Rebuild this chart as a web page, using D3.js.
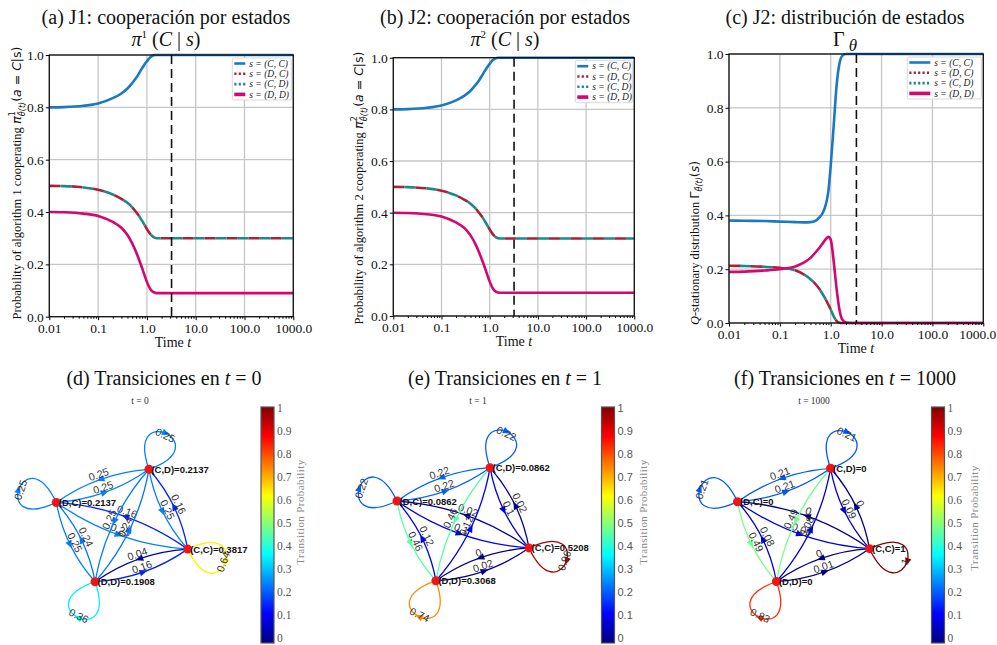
<!DOCTYPE html>
<html>
<head>
<meta charset="utf-8">
<script src="https://cdn.jsdelivr.net/npm/d3@7"></script>
<style>
  body { margin: 0; background: #fff; }
  svg { display: block; }
</style>
</head>
<body>
<svg id="chart" width="997" height="645"></svg>
<script>
// ---- values ----
const times = [0.01, 0.02, 0.05, 0.1, 0.2, 0.3, 0.4, 0.5, 0.6, 0.7, 0.8, 0.9, 1.0, 1.15, 1.3, 1.5, 1.7, 2.0, 3.0, 10, 100, 1000];

// cooperation probability per state (same for both players)
const piCC = [0.800, 0.801, 0.806, 0.815, 0.835, 0.853, 0.872, 0.893, 0.912, 0.932, 0.950, 0.965, 0.976, 0.990, 0.997, 1.0, 1.0, 1.0, 1.0, 1.0, 1.0, 1.0];
const piDC = [0.500, 0.499, 0.494, 0.485, 0.467, 0.450, 0.435, 0.418, 0.400, 0.383, 0.366, 0.350, 0.335, 0.318, 0.307, 0.301, 0.300, 0.300, 0.300, 0.300, 0.300, 0.300];
const piCD = [0.500, 0.499, 0.494, 0.485, 0.467, 0.450, 0.435, 0.418, 0.400, 0.383, 0.366, 0.350, 0.335, 0.318, 0.307, 0.301, 0.300, 0.300, 0.300, 0.300, 0.300, 0.300];
const piDD = [0.400, 0.399, 0.394, 0.385, 0.362, 0.340, 0.312, 0.280, 0.247, 0.215, 0.185, 0.157, 0.133, 0.108, 0.096, 0.091, 0.090, 0.090, 0.090, 0.090, 0.090, 0.090];

// Q-stationary distribution of the states
const gammaCC = [0.381, 0.380, 0.379, 0.377, 0.375, 0.374, 0.375, 0.380, 0.393, 0.410, 0.440, 0.490, 0.585, 0.740, 0.880, 0.968, 0.994, 1.0, 1.0, 1.0, 1.0, 1.0];
const gammaDC = [0.213, 0.212, 0.209, 0.205, 0.196, 0.180, 0.163, 0.145, 0.126, 0.106, 0.087, 0.068, 0.050, 0.024, 0.008, 0.001, 0, 0, 0, 0, 0, 0];
const gammaCD = [0.213, 0.212, 0.209, 0.205, 0.196, 0.180, 0.163, 0.145, 0.126, 0.106, 0.087, 0.068, 0.050, 0.024, 0.008, 0.001, 0, 0, 0, 0, 0, 0];
const gammaDD = [0.190, 0.191, 0.195, 0.200, 0.210, 0.225, 0.242, 0.262, 0.280, 0.297, 0.312, 0.320, 0.310, 0.225, 0.130, 0.045, 0.012, 0.002, 0, 0, 0, 0];

const tStar = 3.2;
const xTicks = [0.01, 0.1, 1, 10, 100, 1000];
const xTickLabels = ["0.01", "0.1", "1.0", "10.0", "100.0", "1000.0"];
const yTicks = [0, 0.2, 0.4, 0.6, 0.8, 1.0];
const yTickLabels = ["0.0", "0.2", "0.4", "0.6", "0.8", "1.0"];
const legendNames = ["s = (C, C)", "s = (D, C)", "s = (C, D)", "s = (D, D)"];

// transition graphs, state order: CC, DC, CD, DD
const states = ["(C,C)", "(D,C)", "(C,D)", "(D,D)"];
const layoutX = [1, -1, 0.41, -0.41];
const layoutY = [-0.42, 0.41, 1, -1];
const trans0 = [[0.64, 0.16, 0.16, 0.04], [0.25, 0.25, 0.25, 0.25], [0.25, 0.25, 0.25, 0.25], [0.16, 0.24, 0.24, 0.36]];
const trans1 = [[0.96, 0.02, 0.02, 0], [0.1, 0.22, 0.22, 0.46], [0.1, 0.22, 0.22, 0.46], [0.02, 0.12, 0.12, 0.74]];
const trans1000 = [[1, 0, 0, 0], [0.09, 0.21, 0.21, 0.49], [0.09, 0.21, 0.21, 0.49], [0.01, 0.08, 0.08, 0.83]];
const stat0 = [0.3817, 0.2137, 0.2137, 0.1908];
const stat1 = [0.5208, 0.0862, 0.0862, 0.3068];
const stat1000 = [1, 0, 0, 0];
const cbTicks = [0, 0.1, 0.2, 0.3, 0.4, 0.5, 0.6, 0.7, 0.8, 0.9, 1];

// ---- setup ----
const SERIF = "'Liberation Serif', 'DejaVu Serif', serif";
const SANS = "'Liberation Sans', Arial, sans-serif";
const MATH = "'DejaVu Sans', sans-serif";

const svg = d3.select("#chart");

const jetStops = [0, 0.125, 0.375, 0.625, 0.875, 1];
const jet = d3.scaleLinear().domain(jetStops)
    .range(["#00007f", "#0000ff", "#00ffff", "#ffff00", "#ff0000", "#7f0000"]);

const grad = svg.append("defs").append("linearGradient")
    .attr("id", "jetGrad").attr("x1", 0).attr("y1", 1).attr("x2", 0).attr("y2", 0);
grad.selectAll("stop").data(jetStops).join("stop")
    .attr("offset", d => d).attr("stop-color", d => jet(d));

const lineStyles = [
  { color: "#1a78c6", width: 2.6 },
  { color: "#a8223c", width: 2.6, dash: "11,11", off: 0 },
  { color: "#1b8a88", width: 2.6, dash: "11,11", off: 11 },
  { color: "#d3076d", width: 2.6 }
];

// text made of pieces (tspans)
function richText(sel, parts) {
  parts.forEach(p => {
    const ts = sel.append("tspan").text(p.text);
    if (p.font) ts.attr("font-family", p.font);
    if (p.style) ts.attr("font-style", p.style);
    if (p.size) ts.attr("font-size", p.size);
    if (p.dy) ts.attr("dy", p.dy);
    if (p.dx) ts.attr("dx", p.dx);
  });
  return sel;
}

function linePanel(p) {
  const x = d3.scaleLog().domain([0.01, 1000]).range([p.left, p.right]);
  const y = d3.scaleLinear().domain([0, 1]).range([p.bottom, p.top]);
  const g = svg.append("g");

  // grid
  g.append("g").selectAll("line").data(xTicks).join("line")
      .attr("x1", d => x(d)).attr("x2", d => x(d))
      .attr("y1", p.top).attr("y2", p.bottom)
      .attr("stroke", "#c6c6c6").attr("stroke-width", 1.3);
  g.append("g").selectAll("line").data(yTicks).join("line")
      .attr("x1", p.left).attr("x2", p.right)
      .attr("y1", d => y(d)).attr("y2", d => y(d))
      .attr("stroke", "#c6c6c6").attr("stroke-width", 1.3);

  // curves
  const line = d3.line()
      .x((d, i) => x(times[i]))
      .y(d => y(d))
      .curve(d3.curveMonotoneX);
  p.series.forEach((s, k) => {
    const st = lineStyles[k];
    g.append("path").datum(s)
        .attr("d", line)
        .attr("fill", "none")
        .attr("stroke", st.color)
        .attr("stroke-width", st.width)
        .attr("stroke-dasharray", st.dash || null)
        .attr("stroke-dashoffset", st.off || 0);
  });

  // vertical dashed marker
  g.append("line")
      .attr("x1", x(tStar)).attr("x2", x(tStar))
      .attr("y1", p.top).attr("y2", p.bottom)
      .attr("stroke", "#111").attr("stroke-width", 1.6)
      .attr("stroke-dasharray", "9,5");

  // axes
  const minor = [];
  [0.01, 0.1, 1, 10, 100].forEach(b => { for (let k = 2; k < 10; k++) minor.push(b * k); });
  g.append("g")
      .attr("transform", `translate(0,${p.bottom})`)
      .call(d3.axisBottom(x).tickValues(minor).tickFormat("").tickSize(2))
      .call(a => a.select(".domain").remove());
  const xa = g.append("g")
      .attr("transform", `translate(0,${p.bottom})`)
      .call(d3.axisBottom(x).tickValues(xTicks).tickFormat((d, i) => xTickLabels[i]).tickSize(3.5).tickPadding(3));
  const ya = g.append("g")
      .attr("transform", `translate(${p.left},0)`)
      .call(d3.axisLeft(y).tickValues(yTicks).tickFormat((d, i) => yTickLabels[i]).tickSize(3.5).tickPadding(2));
  [xa, ya].forEach(a => {
    a.select(".domain").remove();
    a.selectAll("text").attr("font-family", SERIF).attr("font-size", 13.5).attr("fill", "#111");
  });
  // keep the last x label inside the page
  if (p.lastShift) xa.selectAll("text").filter(d => d === 1000).attr("dx", p.lastShift);

  g.append("rect")
      .attr("x", p.left).attr("y", p.top)
      .attr("width", p.right - p.left).attr("height", p.bottom - p.top)
      .attr("fill", "none").attr("stroke", "#111").attr("stroke-width", 1.3);

  // legend
  const lx = p.right - 2 - p.legW, ly = p.top + 3;
  const lg = g.append("g");
  lg.append("rect")
      .attr("x", lx).attr("y", ly).attr("width", p.legW).attr("height", 42)
      .attr("fill", "#fff").attr("stroke", "#cfcfcf").attr("stroke-width", 0.8).attr("rx", 1.5);
  legendNames.forEach((name, k) => {
    const st = lineStyles[k];
    const yy = ly + 5.5 + k * 10.3;
    lg.append("line")
        .attr("x1", lx + 2).attr("x2", lx + 2 + p.legLine)
        .attr("y1", yy).attr("y2", yy)
        .attr("stroke", st.color)
        .attr("stroke-width", k === 3 ? 3.6 : 2.6)
        .attr("stroke-dasharray", st.dash ? "2.2,2.2" : null);
    lg.append("text")
        .attr("x", lx + p.legLine + 6).attr("y", yy + 3.2)
        .attr("font-family", SERIF).attr("font-style", "italic")
        .attr("font-size", 9.5).attr("fill", "#222")
        .text(name);
  });

  // titles
  g.append("text")
      .attr("x", p.titleX).attr("y", 24)
      .attr("text-anchor", "middle").attr("font-family", SERIF).attr("font-size", 20).attr("fill", "#111")
      .text(p.title);
  richText(g.append("text")
      .attr("x", p.titleX).attr("y", 46)
      .attr("text-anchor", "middle").attr("font-family", SERIF).attr("font-size", 20).attr("fill", "#111"), p.title2);

  // axis labels
  richText(g.append("text")
      .attr("x", p.xLabelX).attr("y", p.bottom + 30)
      .attr("text-anchor", "middle").attr("font-family", SERIF).attr("font-size", 14).attr("fill", "#111"),
      [{ text: "Time " }, { text: "t", style: "italic" }]);
  richText(g.append("text")
      .attr("transform", `translate(${p.yLabelX},${p.yLabelY}) rotate(-90)`)
      .attr("text-anchor", "middle").attr("font-family", SERIF).attr("font-size", 12.5).attr("fill", "#111"),
      p.yLabel);
}

function policyLabel(n) {
  return [
    { text: `Probability of algorithm ${n} cooperating ` },
    { text: "π", font: MATH, style: "italic", size: 13 },
    { text: String(n), font: MATH, size: 8, dy: -6 },
    { text: "θ̄(t)", font: MATH, style: "italic", size: 8, dx: -5, dy: 10 },
    { text: "(", font: MATH, dy: -4 },
    { text: "a", font: MATH, style: "italic" },
    { text: " = ", font: MATH },
    { text: "C", font: MATH, style: "italic" },
    { text: "|s)", font: MATH }
  ];
}

linePanel({
  left: 49.3, right: 293.3, top: 55, bottom: 316.7,
  series: [piCC, piDC, piCD, piDD],
  legW: 59, legLine: 11,
  titleX: 166, title: "(a) J1: cooperación por estados",
  title2: [{ text: "π", style: "italic" }, { text: "1", size: 11, dy: -8 }, { text: " (", dy: 8 },
           { text: "C", style: "italic" }, { text: " | " }, { text: "s", style: "italic" }, { text: ")" }],
  xLabelX: 173, yLabelX: 21, yLabelY: 183,
  yLabel: policyLabel(1)
});

linePanel({
  left: 393.3, right: 634.3, top: 57.7, bottom: 316,
  series: [piCC, piDC, piCD, piDD],
  legW: 57, legLine: 11,
  titleX: 505, title: "(b) J2: cooperación por estados",
  title2: [{ text: "π", style: "italic" }, { text: "2", size: 11, dy: -8 }, { text: " (", dy: 8 },
           { text: "C", style: "italic" }, { text: " | " }, { text: "s", style: "italic" }, { text: ")" }],
  xLabelX: 514, yLabelX: 363, yLabelY: 188,
  yLabel: policyLabel(2)
});

linePanel({
  left: 729, right: 983.3, top: 54, bottom: 323,
  series: [gammaCC, gammaDC, gammaCD, gammaDD],
  legW: 74, legLine: 21, lastShift: -6,
  titleX: 845, title: "(c) J2: distribución de estados",
  title2: [{ text: "Γ" }, { text: " θ", style: "italic", size: 17, dy: 5 }],
  xLabelX: 856, yLabelX: 699, yLabelY: 243,
  yLabel: [
    { text: "Q", style: "italic" },
    { text: "-stationary distribution " },
    { text: "Γ", font: MATH, size: 13 },
    { text: "θ̄(t)", font: MATH, style: "italic", size: 8, dy: 3 },
    { text: "(", font: MATH, dy: -3 },
    { text: "s", font: MATH, style: "italic" },
    { text: ")", font: MATH }
  ]
});

// ---- transition graphs ----
function graphPanel(p) {
  const gx = d3.scaleLinear().domain([-1, 1]).range([p.x0, p.x1]);
  const gy = d3.scaleLinear().domain([-1, 1]).range([p.y0, p.y1]);
  const pts = states.map((s, i) => [gx(layoutX[i]), gy(layoutY[i])]);
  const cx = d3.mean(pts, d => d[0]), cy = d3.mean(pts, d => d[1]);
  const g = svg.append("g");
  const R = 0.14;

  const edges = [];
  p.P.forEach((row, i) => row.forEach((v, j) => edges.push({ i, j, v })));

  edges.forEach(e => {
    const a = pts[e.i], b = pts[e.j];
    const col = jet(e.v);
    let d, mid, tan, lab, loop = false;
    if (e.i === e.j) {
      loop = true;
      let ux = a[0] - cx, uy = a[1] - cy;
      const n = Math.hypot(ux, uy); ux /= n; uy /= n;
      const L = 75, th = Math.PI / 4;
      const rot = t => [ux * Math.cos(t) - uy * Math.sin(t), ux * Math.sin(t) + uy * Math.cos(t)];
      const r1 = rot(-th), r2 = rot(th);
      const p1 = [a[0] + L * r1[0], a[1] + L * r1[1]];
      const p2 = [a[0] + L * r2[0], a[1] + L * r2[1]];
      d = `M${a[0]},${a[1]}C${p1[0]},${p1[1]} ${p2[0]},${p2[1]} ${a[0]},${a[1]}`;
      mid = [0.25 * a[0] + 0.375 * (p1[0] + p2[0]), 0.25 * a[1] + 0.375 * (p1[1] + p2[1])];
      tan = [-uy, ux];
      lab = [mid[0] - ux * 2, mid[1] - uy * 2];
    } else {
      const dx = b[0] - a[0], dy = b[1] - a[1];
      const c = [(a[0] + b[0]) / 2 - R * dy, (a[1] + b[1]) / 2 + R * dx];
      d = `M${a[0]},${a[1]}Q${c[0]},${c[1]} ${b[0]},${b[1]}`;
      mid = [0.25 * a[0] + 0.5 * c[0] + 0.25 * b[0], 0.25 * a[1] + 0.5 * c[1] + 0.25 * b[1]];
      tan = [dx, dy];
      lab = mid;
    }
    g.append("path").attr("d", d)
        .attr("fill", "none").attr("stroke", col).attr("stroke-width", 1.3);
    const ang = Math.atan2(tan[1], tan[0]) * 180 / Math.PI;
    g.append("path")
        .attr("d", "M4,0L-4,-3.3L-4,3.3Z")
        .attr("fill", col)
        .attr("transform", `translate(${mid[0]},${mid[1]}) rotate(${ang})`);
    let ta = ang;
    if (ta > 90) ta -= 180;
    if (ta < -90) ta += 180;
    g.append("text")
        .attr("transform", `translate(${lab[0]},${lab[1]}) rotate(${ta})`)
        .attr("text-anchor", "middle")
        .attr("dy", loop ? "0.35em" : "-0.15em")
        .attr("font-family", SANS).attr("font-size", 10.5).attr("fill", "#333")
        .text(String(e.v));
  });

  // nodes
  g.selectAll("circle.node").data(pts).join("circle")
      .attr("class", "node")
      .attr("cx", d => d[0]).attr("cy", d => d[1]).attr("r", 4.5)
      .attr("fill", "#f01515");
  g.selectAll("text.node").data(pts).join("text")
      .attr("class", "node")
      .attr("x", d => d[0] + 2.5).attr("y", d => d[1] + 3.5)
      .attr("font-family", SANS).attr("font-weight", "bold").attr("font-size", 9.5).attr("fill", "#111")
      .text((d, i) => `${states[i]}=${p.stat[i]}`);

  // colorbar
  const cy0 = 638, cy1 = 408;
  const cb = d3.scaleLinear().domain([0, 1]).range([cy0, cy1]);
  g.append("rect")
      .attr("x", p.cbX).attr("y", cy1 - 1).attr("width", 13).attr("height", cy0 - cy1 + 6)
      .attr("fill", "url(#jetGrad)").attr("stroke", "#555").attr("stroke-width", 1.2);
  g.selectAll("text.cb").data(cbTicks).join("text")
      .attr("class", "cb")
      .attr("x", p.cbX + 16).attr("y", d => cb(d) + 3.6)
      .attr("font-family", p.cbFont).attr("font-size", p.cbFont === SANS ? 11 : 11.5)
      .attr("fill", "#555")
      .text(d => String(d));
  g.append("text")
      .attr("transform", `translate(${p.cbLabelX},${p.cbLabelY}) rotate(-90)`)
      .attr("text-anchor", "middle").attr("font-family", SERIF).attr("font-size", 11)
      .attr("letter-spacing", 0.4).attr("fill", "#8a8a8a")
      .text("Transition Probability");

  // titles
  richText(g.append("text")
      .attr("x", p.titleX).attr("y", 385)
      .attr("text-anchor", "middle").attr("font-family", SERIF).attr("font-size", 20).attr("fill", "#111"),
      [{ text: p.titleA }, { text: "t", style: "italic" }, { text: p.titleB }]);
  g.append("text")
      .attr("x", p.subX).attr("y", 404)
      .attr("text-anchor", "middle").attr("font-family", SERIF).attr("font-size", 9.5).attr("fill", "#333")
      .text(p.sub);
}

graphPanel({
  x0: 56.3, x1: 187.7, y0: 581.7, y1: 469.3,
  P: trans0, stat: stat0,
  cbX: 261, cbFont: SERIF, cbLabelX: 304, cbLabelY: 512,
  titleX: 164, titleA: "(d) Transiciones en ", titleB: " = 0",
  subX: 140, sub: "t = 0"
});

graphPanel({
  x0: 397, x1: 529, y0: 580.7, y1: 467.7,
  P: trans1, stat: stat1,
  cbX: 601.5, cbFont: SANS, cbLabelX: 647, cbLabelY: 512,
  titleX: 505, titleA: "(e) Transiciones en ", titleB: " = 1",
  subX: 478, sub: "t = 1"
});

graphPanel({
  x0: 737.5, x1: 869.5, y0: 581.5, y1: 468.3,
  P: trans1000, stat: stat1000,
  cbX: 931.5, cbFont: SERIF, cbLabelX: 978, cbLabelY: 518,
  titleX: 845, titleA: "(f) Transiciones en ", titleB: " = 1000",
  subX: 814, sub: "t = 1000"
});
</script>
</body>
</html>
